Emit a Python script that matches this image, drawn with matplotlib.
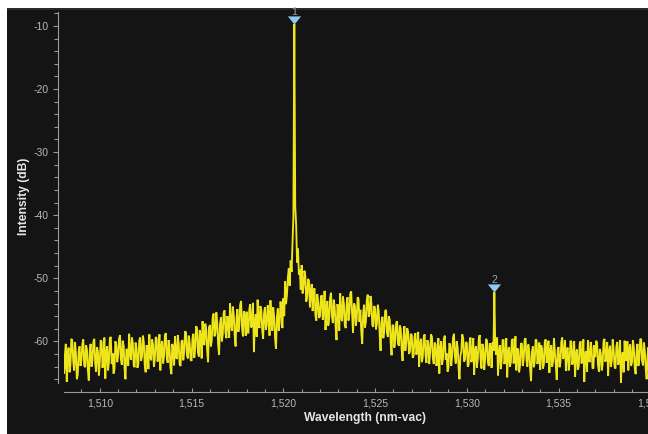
"""
plot.py
OSA spectrum trace (dark theme) with two peak markers
"""

import matplotlib

matplotlib.use("Agg")
import matplotlib.pyplot as plt
import matplotlib.transforms as mtransforms
import numpy as np
from matplotlib.patches import Rectangle
from matplotlib.ticker import FuncFormatter, MultipleLocator

# ── data (0.05 nm sampling from 1508.0 nm) ─────────────────────────────────
WL_START = 1508.0
WL_STEP = 0.05
intensity_db = [
    # 1508
    -60.2, -65.1, -63.5, -60.4, -66.4, -62.2, -61.0, -64.9, -63.8, -59.6,
    -59.9, -63.0, -64.6, -60.1, -62.0, -66.0, -65.3, -61.5, -60.8, -63.9,
    # 1509
    -62.9, -60.5, -59.7, -63.8, -64.1, -60.6, -61.3, -64.5, -66.2, -61.8,
    -60.4, -64.0, -63.0, -60.2, -59.6, -63.5, -64.8, -60.9, -61.7, -65.4,
    # 1510
    -63.4, -59.8, -60.1, -64.2, -62.5, -59.4, -65.9, -61.7, -60.8, -64.6,
    -63.2, -59.5, -59.3, -63.6, -61.9, -65.1, -64.4, -60.0, -60.6, -63.3,
    # 1511
    -62.2, -59.6, -59.0, -62.8, -63.7, -59.9, -60.7, -64.3, -66.0, -61.2,
    -61.4, -63.9, -58.8, -62.0, -62.9, -59.4, -60.3, -63.8, -64.1, -60.2,
    # 1512
    -61.0, -64.2, -63.6, -59.9, -59.4, -63.1, -62.4, -59.1, -60.2, -63.7,
    -64.9, -60.6, -61.3, -64.4, -58.9, -62.5, -63.0, -59.7, -60.5, -64.0,
    # 1513
    -62.7, -59.3, -59.6, -63.2, -61.8, -58.9, -64.6, -60.7, -60.0, -63.5,
    -62.3, -59.0, -58.7, -62.6, -63.4, -59.8, -60.9, -64.1, -65.2, -60.4,
    # 1514
    -61.2, -63.8, -59.2, -62.4, -62.8, -59.0, -60.4, -63.6, -63.9, -60.1,
    -59.8, -63.0, -61.6, -58.4, -58.6, -62.2, -62.7, -59.1, -60.3, -62.9,
    # 1515
    -63.1, -59.5, -58.8, -62.6, -61.0, -57.6, -57.9, -61.8, -62.4, -58.2,
    -59.3, -62.7, -56.8, -60.3, -60.6, -57.2, -58.1, -61.4, -63.3, -57.8,
    # 1516
    -57.4, -60.8, -59.9, -56.3, -55.6, -59.2, -58.7, -55.4, -57.0, -60.5,
    -62.1, -57.3, -56.2, -60.0, -58.9, -55.5, -55.1, -58.6, -59.5, -56.0,
    # 1517
    -56.9, -59.4, -54.0, -57.2, -58.3, -54.5, -55.8, -59.0, -60.8, -56.4,
    -54.9, -58.5, -57.6, -54.2, -53.6, -57.8, -59.2, -55.2, -56.0, -59.1,
    # 1518
    -55.3, -58.6, -58.7, -54.9, -54.1, -57.8, -57.2, -53.9, -61.7, -57.0,
    -55.7, -59.3, -53.4, -56.8, -57.9, -54.4, -55.0, -58.1, -59.6, -55.6,
    # 1519
    -54.6, -58.2, -57.4, -54.3, -55.9, -59.1, -53.5, -57.0, -58.3, -54.6,
    -56.1, -59.4, -61.2, -56.2, -54.8, -58.3, -57.0, -53.7, -55.4, -57.9,
    # 1520
    -53.2, -56.0, -50.5, -54.1, -52.6, -49.9, -48.4, -51.2, -47.2, -49.0,
    -44.8, -40.2, -9.7, -38.6, -41.5, -47.5, -45.3, -49.4, -48.6, -51.8,
    # 1521
    -47.9, -52.4, -51.5, -48.8, -49.6, -53.7, -53.0, -50.1, -50.4, -54.6,
    -52.3, -50.9, -55.2, -52.0, -51.6, -55.9, -56.7, -52.5, -53.8, -56.3,
    # 1522
    -56.0, -52.9, -52.7, -56.6, -55.3, -52.0, -58.2, -54.8, -53.6, -57.5,
    -56.4, -53.1, -52.3, -56.0, -57.1, -53.4, -54.5, -57.6, -59.8, -54.1,
    # 1523
    -55.1, -58.3, -52.4, -55.9, -56.8, -52.9, -54.0, -57.4, -57.9, -54.1,
    -53.0, -56.7, -55.6, -52.4, -52.1, -55.8, -58.6, -54.0, -54.3, -57.5,
    # 1524
    -56.5, -53.0, -53.3, -56.9, -55.0, -58.5, -60.4, -55.6, -54.2, -57.8,
    -56.9, -53.5, -52.6, -56.1, -55.8, -52.8, -53.9, -57.4, -57.7, -54.4,
    # 1525
    -54.7, -58.1, -57.2, -54.2, -55.3, -58.8, -61.5, -57.0, -56.1, -59.5,
    -58.4, -55.2, -55.0, -58.7, -59.3, -56.0, -56.6, -60.1, -62.2, -57.4,
    # 1526
    -57.5, -61.0, -59.8, -57.1, -56.8, -60.4, -60.7, -57.5, -58.0, -61.3,
    -63.1, -59.2, -57.6, -61.5, -60.2, -57.9, -58.5, -62.0, -61.6, -58.8,
    # 1527
    -59.0, -62.6, -62.3, -59.3, -58.7, -62.1, -61.2, -58.5, -64.0, -60.6,
    -59.6, -63.3, -62.5, -59.4, -58.9, -62.2, -63.4, -59.8, -60.4, -63.6,
    # 1528
    -61.8, -58.9, -59.3, -62.7, -63.6, -60.2, -60.5, -63.9, -62.2, -59.5,
    -65.1, -61.2, -60.0, -63.7, -62.8, -59.6, -59.1, -62.9, -61.9, -64.8,
    # 1529
    -64.2, -60.3, -60.7, -63.9, -62.3, -59.4, -58.8, -62.4, -63.5, -60.0,
    -60.9, -64.1, -66.0, -62.3, -61.6, -58.9, -59.5, -63.2, -62.9, -60.1,
    # 1530
    -60.3, -64.0, -63.7, -60.2, -59.4, -63.3, -62.1, -59.5, -65.3, -61.4,
    -60.8, -64.2, -62.6, -59.7, -59.0, -62.8, -64.3, -60.4, -61.2, -64.5,
    # 1531
    -62.8, -59.6, -59.9, -63.4, -63.9, -60.3, -61.0, -64.2, -60.2, -61.5,
    -52.2, -60.9, -62.1, -59.4, -65.4, -61.8, -60.6, -64.4, -63.0, -59.8,
    # 1532
    -59.8, -63.6, -62.5, -59.5, -65.7, -61.8, -60.9, -64.0, -63.3, -60.0,
    -59.6, -63.5, -62.0, -59.2, -64.6, -61.1, -61.4, -64.9, -63.8, -60.3,
    # 1533
    -60.4, -63.9, -62.7, -59.8, -59.5, -63.0, -64.0, -60.5, -61.6, -64.4,
    -66.3, -61.7, -60.8, -64.1, -63.2, -59.7, -59.9, -63.6, -62.4, -60.2,
    # 1534
    -64.5, -60.6, -61.1, -64.3, -63.6, -60.0, -59.7, -63.4, -62.3, -59.9,
    -65.0, -61.5, -60.6, -64.0, -63.1, -59.5, -61.8, -63.7, -66.1, -61.3,
    # 1535
    -60.9, -64.1, -63.4, -60.1, -59.4, -62.8, -62.2, -59.8, -64.7, -61.3,
    -61.0, -64.6, -63.5, -59.9, -60.2, -63.7, -62.6, -60.0, -65.6, -61.9,
    # 1536
    -61.3, -64.5, -63.9, -60.4, -60.0, -63.5, -62.7, -59.7, -66.4, -62.0,
    -61.6, -64.8, -59.8, -62.9, -63.3, -60.1, -61.1, -64.3, -64.2, -60.6,
    # 1537
    -62.5, -59.9, -60.3, -63.8, -64.8, -61.2, -61.9, -64.6, -63.6, -60.0,
    -59.6, -63.2, -62.4, -60.1, -65.5, -61.7, -60.7, -64.0, -63.1, -59.7,
    # 1538
    -61.4, -64.0, -64.3, -60.8, -60.1, -63.7, -63.0, -59.8, -66.6, -62.5,
    -61.7, -64.9, -59.9, -63.1, -62.8, -60.0, -64.6, -61.3, -60.5, -63.9,
    # 1539
    -63.3, -59.8, -61.0, -64.2, -65.2, -61.6, -60.4, -63.9, -62.9, -59.6,
    -59.7, -63.1, -63.8, -60.2, -61.5, -64.4, -66.0, -62.1, -60.9, -64.0,
    # 1540
    -62.6, -59.9, -60.2, -63.5, -63.7,
]
marker_labels = ["1", "2"]
marker_wl = [1520.6, 1531.5]

# ── style ───────────────────────────────────────────────────────────────
BG = "#141414"
TRACE = "#eee51a"
MARKER = "#8ccbec"
TICK_TXT = "#b8b8b8"
SPINE = "#9a9a9a"

plt.rcParams["font.family"] = ["Liberation Sans", "DejaVu Sans"]
plt.rcParams["axes.unicode_minus"] = False

W, H = 648, 434
fig = plt.figure(figsize=(W / 100, H / 100), dpi=100, facecolor="white")

# dark panel with a white margin on the left/top (drawn under the axes)
fig.patches.append(Rectangle((7 / W, 0), 1, 1 - 8 / H, transform=fig.transFigure,
                             facecolor=BG, edgecolor="none", zorder=-10))
fig.patches.append(Rectangle((7 / W, 1 - 10 / H), 1, 2 / H, transform=fig.transFigure,
                             facecolor="#2a2a2a", edgecolor="none", zorder=-9))

ax = fig.add_axes([64 / W, 1 - 383 / H, 590 / W, 371 / H])
ax.set_facecolor("none")

wl = WL_START + WL_STEP * np.arange(len(intensity_db))
db = np.array(intensity_db)
ax.plot(wl, db, color=TRACE, linewidth=1.35, solid_joinstyle="miter")

ax.set_xlim(1508.05, 1540.2)
ax.set_ylim(-66.6, -7.8)

# peak markers (flat downward triangle + number) sit just above the trace
tri = [(-1.0, 0.62), (1.0, 0.62), (0.0, -0.62)]
tri_tf = mtransforms.offset_copy(ax.transData, fig=fig, x=0, y=3.0, units="points")
txt_tf = mtransforms.offset_copy(ax.transData, fig=fig, x=0, y=8.6, units="points")
for lab, x in zip(marker_labels, marker_wl):
    y = np.interp(x, wl, db)
    ax.plot([x], [y], marker=tri, markersize=9.5, color=MARKER, markeredgewidth=0,
            transform=tri_tf, clip_on=False, zorder=5)
    ax.text(x, y, lab, transform=txt_tf, ha="center", va="center",
            fontsize=7.5, color="#8fa9bb", clip_on=False, zorder=6)

# axes styling
for side in ("top", "right"):
    ax.spines[side].set_visible(False)
ax.spines["left"].set_position(("outward", 4.3))
ax.spines["bottom"].set_position(("outward", 6.5))
ax.spines["left"].set_color(SPINE)
ax.spines["bottom"].set_color(SPINE)

ax.yaxis.set_major_locator(MultipleLocator(10))
ax.yaxis.set_minor_locator(MultipleLocator(2))
ax.xaxis.set_major_locator(MultipleLocator(5))
ax.xaxis.set_minor_locator(MultipleLocator(1))
ax.xaxis.set_major_formatter(FuncFormatter(lambda v, _: f"{v:,.0f}"))

ax.tick_params(axis="y", which="major", direction="out", length=3.6, width=0.8,
               color=SPINE, labelcolor=TICK_TXT, labelsize=7.5, pad=3.2)
ax.tick_params(axis="y", which="minor", direction="out", length=2.6, width=0.8, color=SPINE)
ax.tick_params(axis="x", which="major", direction="in", length=3.0, width=0.8,
               color=SPINE, labelcolor=TICK_TXT, labelsize=7.5, pad=5)
ax.tick_params(axis="x", which="minor", direction="in", length=2.4, width=0.8, color=SPINE)

fig.text(365 / W, 1 - 418 / H, "Wavelength (nm-vac)", ha="center", va="center",
         fontsize=8.7, fontweight="bold", color="#e6e6e6")
fig.text(24 / W, 1 - 196 / H, "Intensity (dB)", ha="center", va="center", rotation=90,
         fontsize=8.7, fontweight="bold", color="#e6e6e6")

fig.savefig("out.png", dpi=100, facecolor=fig.get_facecolor())
